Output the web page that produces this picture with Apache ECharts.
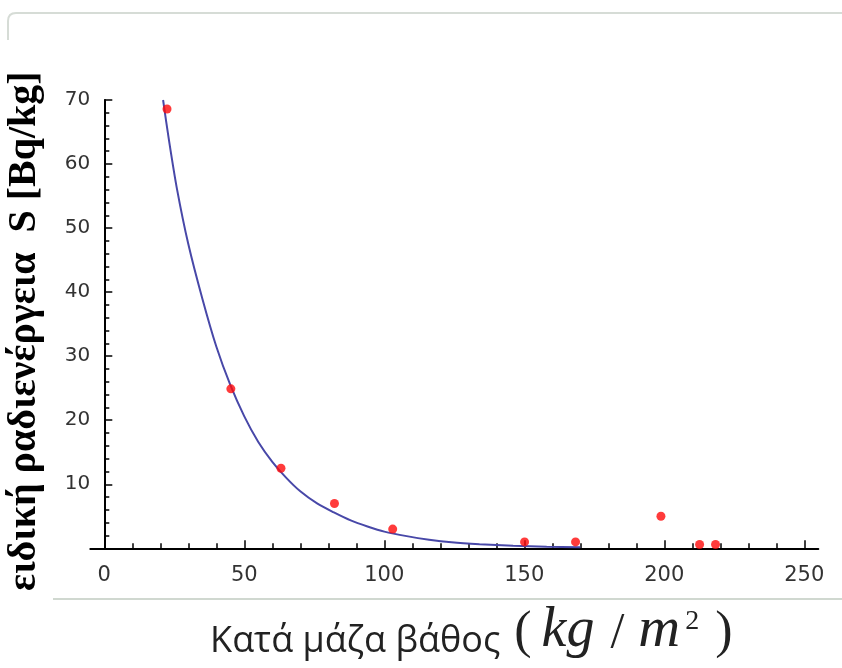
<!DOCTYPE html>
<html>
<head>
<meta charset="utf-8">
<script src="https://cdn.jsdelivr.net/npm/echarts@6/dist/echarts.min.js"></script>
<style>html,body{margin:0;padding:0;background:#fff}#c{width:842px;height:668px}</style>
</head>
<body>
<div id="c"></div>
<script>
// measured points
const pointX = [22.4, 45.2, 63.1, 82.2, 103.0, 150.1, 168.3, 198.8, 212.6, 218.3];
const pointY = [68.6, 24.9, 12.5, 7.0, 3.0, 1.0, 1.0, 5.0, 0.6, 0.6];
// fitted curve
const curveX = [21, 23, 26, 30, 35, 40, 45, 50, 55, 60, 65, 70, 76, 82, 88, 94, 100, 108, 116, 124, 134, 146, 158, 170];
const curveY = [70, 64, 56, 47.5, 39, 31.5, 25.5, 20.6, 16.6, 13.5, 11.0, 8.9, 7.0, 5.6, 4.35, 3.4, 2.6, 1.9, 1.35, 0.95, 0.65, 0.4, 0.25, 0.15];
// ticks and labels
const xMajorTicks = [0, 50, 100, 150, 200, 250];
const xMinorTicks = [10, 20, 30, 40, 60, 70, 80, 90, 110, 120, 130, 140, 160, 170, 180, 190, 210, 220, 230, 240];
const yTickLabels = [10, 20, 30, 40, 50, 60, 70];
const yTitle = 'ειδική ραδιενέργεια  S [Bq/kg]';
const xTitle = 'Κατά μάζα βάθος';

const chart = echarts.init(document.getElementById('c'), null, {renderer: 'canvas'});
const labelFont = 'DejaVu Sans';
chart.setOption({
  animation: false,
  backgroundColor: '#ffffff',
  grid: {left: 90.3, right: 23.7, top: 100, bottom: 119.7, containLabel: false, outerBoundsMode: 'none'},
  xAxis: [{
    type: 'value', min: -5, max: 255, position: 'bottom',
    splitLine: {show: false},
    axisLine: {onZero: false, lineStyle: {color: '#000', width: 2}},
    axisTick: {inside: true, length: 8, customValues: xMajorTicks, lineStyle: {color: '#000', width: 1.5}},
    axisLabel: {customValues: xMajorTicks, margin: 17, fontFamily: labelFont, fontSize: 21, color: '#333'},
    name: '{a|' + xTitle + '}{p1|(}{i1|kg}{sl|/}{i2|m}{s|2}{p2|)}',
    nameLocation: 'middle', nameGap: 53,
    nameTextStyle: {
      padding: [0, 0, 0, 34],
      rich: {
        a: {fontFamily: 'Open Sans', fontSize: 36, lineHeight: 36, color: '#222', verticalAlign: 'bottom'},
        p1: {fontFamily: 'Liberation Serif', fontSize: 52, lineHeight: 52, color: '#222', verticalAlign: 'bottom', padding: [0, 0, 0, 14]},
        p2: {fontFamily: 'Liberation Serif', fontSize: 52, lineHeight: 52, color: '#222', verticalAlign: 'bottom', padding: [0, 0, 0, 16]},
        i1: {fontFamily: 'Liberation Serif', fontStyle: 'italic', fontSize: 56, lineHeight: 56, color: '#222', verticalAlign: 'bottom', padding: [0, 0, 0, 10]},
        i2: {fontFamily: 'Liberation Serif', fontStyle: 'italic', fontSize: 58, lineHeight: 58, color: '#222', verticalAlign: 'bottom'},
        sl: {fontFamily: 'Liberation Serif', fontSize: 50, lineHeight: 50, color: '#222', verticalAlign: 'bottom', padding: [0, 14, 0, 16]},
        s: {fontFamily: 'Liberation Serif', fontSize: 28, lineHeight: 28, color: '#222', verticalAlign: 'top', padding: [6, 0, 0, 5]}
      }
    }
  }, {
    type: 'value', min: -5, max: 255, position: 'bottom',
    splitLine: {show: false},
    axisLine: {show: false, onZero: false},
    axisTick: {inside: true, length: 5, customValues: xMinorTicks, lineStyle: {color: '#000', width: 1.5}},
    axisLabel: {show: false}
  }],
  yAxis: {
    type: 'value', min: 0, max: 70, interval: 10,
    splitLine: {show: false},
    axisLine: {onZero: true, onZeroAxisIndex: 0, lineStyle: {color: '#000', width: 2}},
    axisTick: {inside: true, length: 8, lineStyle: {color: '#000', width: 1.5}},
    minorTick: {show: true, splitNumber: 5, length: 5, lineStyle: {color: '#000', width: 1.5}},
    axisLabel: {customValues: yTickLabels, margin: 0, fontFamily: labelFont, fontSize: 20, color: '#333'},
    name: yTitle, nameLocation: 'middle', nameRotate: 90, nameGap: 46,
    nameTextStyle: {fontFamily: 'Liberation Serif', fontWeight: 'bold', fontSize: 40, color: '#000', padding: [0, 14, 0, 0]}
  },
  series: [{
    type: 'line', xAxisIndex: 0, data: curveX.map((x, i) => [x, curveY[i]]),
    showSymbol: false, smooth: 0.3,
    lineStyle: {color: '#4848a8', width: 2}, z: 2, silent: true
  }, {
    type: 'scatter', xAxisIndex: 0, data: pointX.map((x, i) => [x, pointY[i]]),
    symbol: 'circle', symbolSize: 9, itemStyle: {color: '#ff0a0a'}, z: 3
  }],
  graphic: [
    {type: 'line', shape: {x1: 8, y1: 40, x2: 8, y2: 21}, style: {stroke: '#d6dcd6', lineWidth: 2}, silent: true},
    {type: 'bezierCurve', shape: {x1: 8, y1: 21, x2: 16, y2: 13, cpx1: 8, cpy1: 13}, style: {fill: null, stroke: '#d6dcd6', lineWidth: 2}, silent: true},
    {type: 'line', shape: {x1: 16, y1: 13, x2: 842, y2: 13}, style: {stroke: '#d6dcd6', lineWidth: 2}, silent: true},
    {type: 'line', shape: {x1: 53, y1: 599, x2: 842, y2: 599}, style: {stroke: '#d0d8d0', lineWidth: 2}, silent: true}
  ]
});
</script>
</body>
</html>
